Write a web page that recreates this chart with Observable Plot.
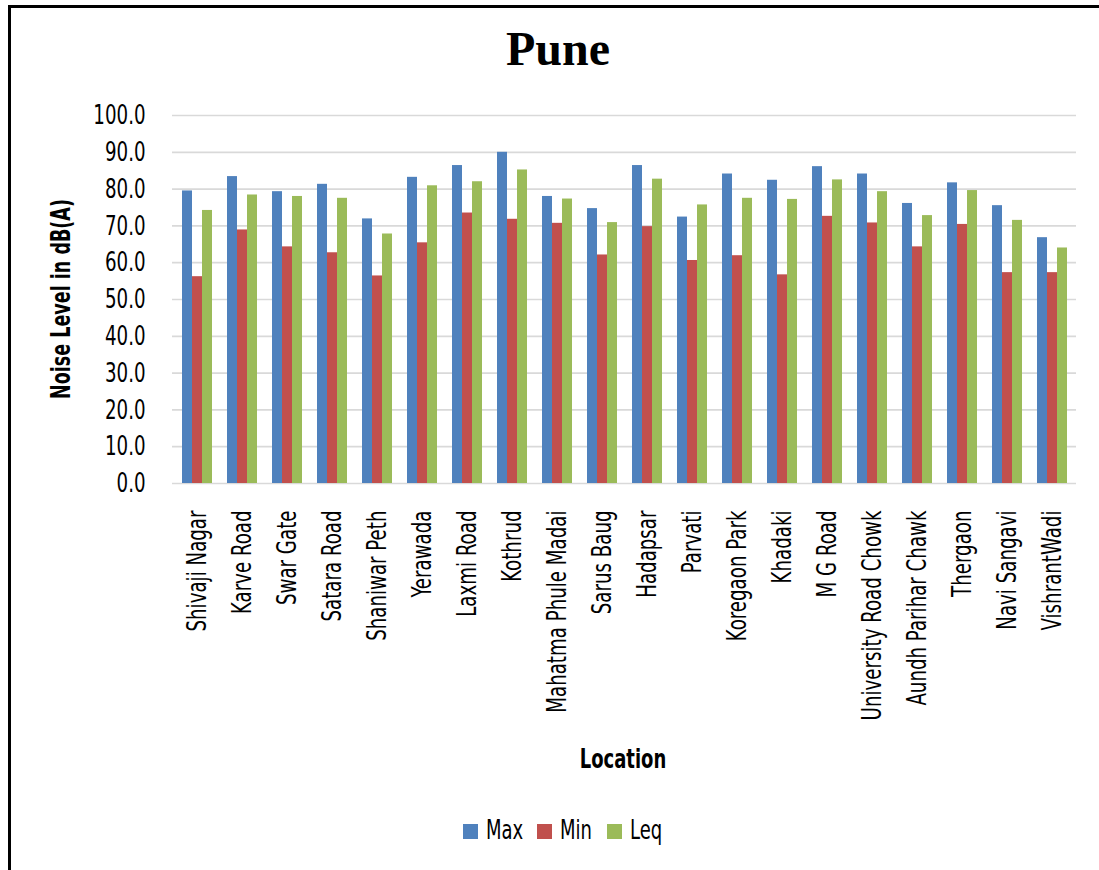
<!DOCTYPE html>
<html>
<head>
<meta charset="utf-8">
<script src="https://cdn.jsdelivr.net/npm/d3@7"></script>
<script src="https://cdn.jsdelivr.net/npm/@observablehq/plot@0.6"></script>
<style>
  html, body { margin: 0; padding: 0; background: #fff; overflow: hidden; }
  #page { position: relative; width: 1099px; height: 870px; overflow: hidden; }
  #frame { position: absolute; left: 8px; top: 5px; width: 1200px; height: 1000px;
           border-left: 3px solid #000; border-top: 3px solid #000; }
  .narrow { font-family: "Liberation Sans Narrow", "DejaVu Sans Condensed", "Roboto", sans-serif; font-stretch: condensed; }
  #title { position: absolute; left: 0; width: 1116px; top: 25px; text-align: center;
           font-family: "Liberation Serif", "DejaVu Serif", serif; font-weight: bold; font-size: 48px; line-height: 1; }
  #ylabel { position: absolute; left: 61px; top: 299px; transform: translate(-50%, -50%) rotate(-90deg) scaleX(0.75);
            white-space: nowrap; font-weight: bold; font-size: 26px; line-height: 1; }
  #xlabel { position: absolute; left: 623px; top: 758px; transform: translate(-50%, -50%) scaleX(0.74);
            font-weight: bold; font-size: 27px; white-space: nowrap; line-height: 1; }
  .litem { position: absolute; top: 820px; height: 24px; }
  .litem .sw { position: absolute; left: 0; top: 4px; width: 15px; height: 15px; }
  .litem .lt { position: absolute; left: 23px; top: -4px; font-size: 27px; line-height: 1; white-space: nowrap;
               transform: scaleX(0.74); transform-origin: left center; }
  #chart { position: absolute; left: 0; top: 90px; }
</style>
</head>
<body>
<div id="page">
  <div id="frame"></div>
  <div id="title">Pune</div>
  <div id="ylabel" class="narrow">Noise Level in dB(A)</div>
  <div id="xlabel" class="narrow">Location</div>
  <div id="legend" class="narrow"></div>
  <div id="chart"></div>
</div>
<script>
const locations = ["Shivaji Nagar","Karve Road","Swar Gate","Satara Road","Shaniwar Peth","Yerawada","Laxmi Road","Kothrud","Mahatma Phule Madai","Sarus Baug","Hadapsar","Parvati","Koregaon Park","Khadaki","M G Road","University Road Chowk","Aundh Parihar Chawk","Thergaon","Navi Sangavi","VishrantWadi"];
const maxVals = [79.5,83.4,79.3,81.3,71.9,83.2,86.4,90.0,78.0,74.7,86.4,72.4,84.1,82.4,86.1,84.1,76.1,81.7,75.5,66.8];
const minVals = [56.2,68.9,64.3,62.7,56.4,65.4,73.5,71.8,70.7,62.1,69.8,60.6,61.9,56.7,72.6,70.8,64.3,70.4,57.3,57.3];
const leqVals = [74.2,78.4,78.0,77.5,67.8,80.9,82.0,85.2,77.3,70.9,82.7,75.7,77.5,77.2,82.5,79.3,72.8,79.6,71.5,64.0];
const seriesNames = ["Max","Min","Leq"];
const seriesColors = ["#4F81BD","#C0504D","#9BBB59"];
const yTicks = [0,10,20,30,40,50,60,70,80,90,100];

const seriesVals = [maxVals, minVals, leqVals];
const rows = [];
seriesNames.forEach((s, si) => locations.forEach((loc, i) => rows.push({location: loc, series: s, value: seriesVals[si][i]})));

const W = 1099, H = 700, mL = 172, mR = 23, mT = 25, mB = 307;
const pInner = 0.336, pOuter = 0.168;
const step = (W - mL - mR) / (locations.length - pInner + 2 * pOuter);
const bw = step * (1 - pInner);
const sub = bw / 3;

const FONT = '"Liberation Sans Narrow", "DejaVu Sans Condensed", "Roboto", sans-serif';

const chart = Plot.plot({
  width: W, height: H,
  marginLeft: mL, marginRight: mR, marginTop: mT, marginBottom: mB,
  style: {fontFamily: FONT, fontSize: "27px", color: "#000", background: "transparent", fontStretch: "condensed"},
  x: {domain: locations, paddingInner: pInner, paddingOuter: pOuter, tickRotate: -90, tickSize: 0, tickPadding: 27, label: null},
  y: {domain: [0, 100], ticks: yTicks, tickFormat: d3.format(".1f"), tickSize: 0, tickPadding: 27, label: null},
  color: {domain: seriesNames, range: seriesColors},
  marks: [
    Plot.ruleY(yTicks, {y: d => d, stroke: "#d9d9d9", strokeWidth: 1.7}),
    ...seriesNames.map((s, si) => Plot.barY(rows.filter(r => r.series === s), {
      x: "location", y: "value", fill: "series",
      insetLeft: si * sub, insetRight: (2 - si) * sub
    }))
  ]
});
// condense tick label glyphs horizontally (reference uses a very narrow typeface)
const SX = 0.75;
chart.querySelectorAll("text").forEach(t => {
  const tr = t.getAttribute("transform") || "";
  t.setAttribute("transform", `${tr} scale(${SX},1)`);
});
document.getElementById("chart").appendChild(chart);

const legendLefts = [463, 537, 607];
const legend = document.getElementById("legend");
seriesNames.forEach((s, i) => {
  const item = document.createElement("div");
  item.className = "litem";
  item.style.left = legendLefts[i] + "px";
  const sw = document.createElement("div");
  sw.className = "sw";
  sw.style.background = seriesColors[i];
  const t = document.createElement("span");
  t.className = "lt";
  t.textContent = s;
  item.appendChild(sw); item.appendChild(t);
  legend.appendChild(item);
});
</script>
</body>
</html>
